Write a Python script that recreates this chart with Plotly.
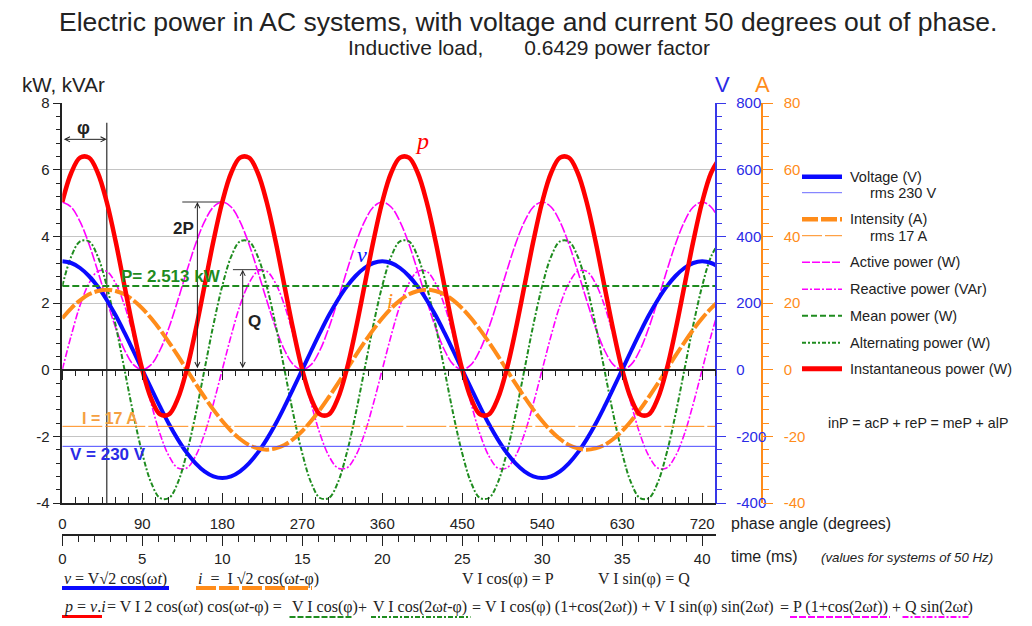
import plotly.graph_objects as go

# The page body has an 8px margin, so the figure is offset by 8px in the window.
OFF = 8
FW, FH = 1016, 610

def px(x):
    return (x - OFF) / FW

def py(y):
    return 1 - (y - OFF) / FH

# ---------------- data ----------------
angle_deg = [0, 10, 20, 30, 40, 50, 60, 70, 80, 90, 100, 110, 120, 130, 140, 150, 160, 170,
             180, 190, 200, 210, 220, 230, 240, 250, 260, 270, 280, 290, 300, 310, 320, 330, 340, 350,
             360, 370, 380, 390, 400, 410, 420, 430, 440, 450, 460, 470, 480, 490, 500, 510, 520, 530,
             540, 550, 560, 570, 580, 590, 600, 610, 620, 630, 640, 650, 660, 670, 680, 690, 700, 710,
             720, 730, 740]

voltage_v = [325, 320, 305, 281, 249, 209, 163, 111, 56, 0, -56, -111, -163, -209, -249, -281, -305, -320,
             -325, -320, -305, -281, -249, -209, -163, -111, -56, 0, 56, 111, 163, 209, 249, 281, 305, 320,
             325, 320, 305, 281, 249, 209, 163, 111, 56, 0, -56, -111, -163, -209, -249, -281, -305, -320,
             -325, -320, -305, -281, -249, -209, -163, -111, -56, 0, 56, 111, 163, 209, 249, 281, 305, 320,
             325, 320, 305]

current_a = [15.4, 18.4, 20.8, 22.6, 23.6, 24.0, 23.6, 22.6, 20.8, 18.4, 15.4, 12.0, 8.2, 4.2, 0, -4.2, -8.2, -12.0,
             -15.4, -18.4, -20.8, -22.6, -23.6, -24.0, -23.6, -22.6, -20.8, -18.4, -15.4, -12.0, -8.2, -4.2, 0, 4.2, 8.2, 12.0,
             15.4, 18.4, 20.8, 22.6, 23.6, 24.0, 23.6, 22.6, 20.8, 18.4, 15.4, 12.0, 8.2, 4.2, 0, -4.2, -8.2, -12.0,
             -15.4, -18.4, -20.8, -22.6, -23.6, -24.0, -23.6, -22.6, -20.8, -18.4, -15.4, -12.0, -8.2, -4.2, 0, 4.2, 8.2, 12.0,
             15.4, 18.4, 20.8]

active_kw = [5.03, 4.88, 4.44, 3.77, 2.95, 2.08, 1.26, 0.59, 0.15, 0, 0.15, 0.59, 1.26, 2.08, 2.95, 3.77, 4.44, 4.88,
             5.03, 4.88, 4.44, 3.77, 2.95, 2.08, 1.26, 0.59, 0.15, 0, 0.15, 0.59, 1.26, 2.08, 2.95, 3.77, 4.44, 4.88,
             5.03, 4.88, 4.44, 3.77, 2.95, 2.08, 1.26, 0.59, 0.15, 0, 0.15, 0.59, 1.26, 2.08, 2.95, 3.77, 4.44, 4.88,
             5.03, 4.88, 4.44, 3.77, 2.95, 2.08, 1.26, 0.59, 0.15, 0, 0.15, 0.59, 1.26, 2.08, 2.95, 3.77, 4.44, 4.88,
             5.03, 4.88, 4.44]

reactive_kvar = [0, 1.02, 1.93, 2.59, 2.95, 2.95, 2.59, 1.93, 1.02, 0, -1.02, -1.93, -2.59, -2.95, -2.95, -2.59, -1.93, -1.02,
                 0, 1.02, 1.93, 2.59, 2.95, 2.95, 2.59, 1.93, 1.02, 0, -1.02, -1.93, -2.59, -2.95, -2.95, -2.59, -1.93, -1.02,
                 0, 1.02, 1.93, 2.59, 2.95, 2.95, 2.59, 1.93, 1.02, 0, -1.02, -1.93, -2.59, -2.95, -2.95, -2.59, -1.93, -1.02,
                 0, 1.02, 1.93, 2.59, 2.95, 2.95, 2.59, 1.93, 1.02, 0, -1.02, -1.93, -2.59, -2.95, -2.95, -2.59, -1.93, -1.02,
                 0, 1.02, 1.93]

alternating_kw = [2.51, 3.39, 3.85, 3.85, 3.39, 2.51, 1.34, 0, -1.34, -2.51, -3.39, -3.85, -3.85, -3.39, -2.51, -1.34, 0, 1.34,
                  2.51, 3.39, 3.85, 3.85, 3.39, 2.51, 1.34, 0, -1.34, -2.51, -3.39, -3.85, -3.85, -3.39, -2.51, -1.34, 0, 1.34,
                  2.51, 3.39, 3.85, 3.85, 3.39, 2.51, 1.34, 0, -1.34, -2.51, -3.39, -3.85, -3.85, -3.39, -2.51, -1.34, 0, 1.34,
                  2.51, 3.39, 3.85, 3.85, 3.39, 2.51, 1.34, 0, -1.34, -2.51, -3.39, -3.85, -3.85, -3.39, -2.51, -1.34, 0, 1.34,
                  2.51, 3.39, 3.85]

instant_kw = [5.03, 5.90, 6.36, 6.36, 5.90, 5.03, 3.85, 2.51, 1.18, 0, -0.87, -1.34, -1.34, -0.87, 0, 1.18, 2.51, 3.85,
              5.03, 5.90, 6.36, 6.36, 5.90, 5.03, 3.85, 2.51, 1.18, 0, -0.87, -1.34, -1.34, -0.87, 0, 1.18, 2.51, 3.85,
              5.03, 5.90, 6.36, 6.36, 5.90, 5.03, 3.85, 2.51, 1.18, 0, -0.87, -1.34, -1.34, -0.87, 0, 1.18, 2.51, 3.85,
              5.03, 5.90, 6.36, 6.36, 5.90, 5.03, 3.85, 2.51, 1.18, 0, -0.87, -1.34, -1.34, -0.87, 0, 1.18, 2.51, 3.85,
              5.03, 5.90, 6.36]

mean_x_deg = [0, 750]
mean_kw = [2.513, 2.513]
rms_x_ms = [0, 42]
v_rms_line = [-230, -230]
i_rms_line = [-17, -17]

phi_deg = 50
two_p_kw = 5.03
q_kvar = 3.0

kw_ticks = [-4, -2, 0, 2, 4, 6, 8]
kw_ticktext = ["-4", "-2", "0", "2", "4", "6", "8"]
v_ticks = [-400, -200, 0, 200, 400, 600, 800]
v_ticktext = ["-400", "-200", "0", "200", "400", "600", "800"]
a_ticks = [-40, -20, 0, 20, 40, 60, 80]
a_ticktext = ["-40", "-20", "0", "20", "40", "60", "80"]

legend_labels = ["Voltage (V)", "rms 230 V", "Intensity (A)", "rms 17 A",
                 "Active power (W)", "Reactive power (VAr)", "Mean power (W)",
                 "Alternating power (W)", "Instantaneous power (W)"]

# ---------------- styles ----------------
BLUE = "#0a0aff"
BLUE_T = "#2a2ae6"
ORANGE = "#ff8c1a"
MAGENTA = "#ff00ff"
GREEN = "#1f8c1f"
RED = "#ff0000"
INK = "#222222"
SANS = "Liberation Sans, Arial, sans-serif"
SERIF = "Liberation Serif, Times New Roman, serif"

fig = go.Figure()

def add(x, y, color, width, dash, xaxis="x", yaxis="y", shape="spline"):
    fig.add_trace(go.Scatter(x=x, y=y, mode="lines", xaxis=xaxis, yaxis=yaxis,
                             line=dict(color=color, width=width, dash=dash, shape=shape),
                             hoverinfo="skip", showlegend=False))

add(angle_deg, active_kw, MAGENTA, 1.6, "10px,2px")
add(angle_deg, reactive_kvar, MAGENTA, 1.6, "7px,2px,2px,2px")
add(angle_deg, alternating_kw, GREEN, 2, "5px,2px,2px,2px")
add(angle_deg, voltage_v, BLUE, 4, "solid", yaxis="y2")
add(angle_deg, current_a, ORANGE, 4, "18px,3px", yaxis="y3")
add(angle_deg, instant_kw, RED, 4.5, "solid", yaxis="y4")
add(rms_x_ms, i_rms_line, ORANGE, 1, "40px,3px", xaxis="x2", yaxis="y3", shape="linear")
add(rms_x_ms, v_rms_line, "#4a4aff", 1, "solid", xaxis="x2", yaxis="y2", shape="linear")
add(mean_x_deg, mean_kw, GREEN, 2, "7px,3px", xaxis="x3", shape="linear")

X0, X1 = 62.3, 715.5
x_dom = [px(X0), px(X1)]
y_dom = [py(503), py(103)]
x_rng = [0, 735]

fig.update_layout(
    width=FW, height=FH, autosize=False,
    margin=dict(l=0, r=0, t=0, b=0),
    paper_bgcolor="white", plot_bgcolor="white",
    font=dict(family=SANS, size=15, color=INK),
    showlegend=False,
    xaxis=dict(domain=x_dom, range=x_rng, anchor="y", side="bottom",
               showline=True, linecolor=INK, linewidth=1.5,
               ticks="inside", ticklen=10, tickwidth=1, tickcolor=INK,
               tick0=0, dtick=90, ticklabelstandoff=6,
               minor=dict(dtick=15, ticks="inside", ticklen=6, tickcolor=INK, showgrid=False),
               showgrid=False, zeroline=False, tickfont=dict(size=15, color=INK),
               automargin=False),
    xaxis2=dict(overlaying="x", anchor="free", position=py(535), side="bottom",
                range=[0, 735 * 40 / 720], showline=True, linecolor=INK, linewidth=1.5,
                ticks="outside", ticklen=10, tickwidth=1, tickcolor=INK,
                tick0=0, dtick=5,
                minor=dict(dtick=1, ticks="outside", ticklen=6, tickcolor=INK, showgrid=False),
                showgrid=False, zeroline=False, tickfont=dict(size=15, color=INK),
                automargin=False),
    xaxis3=dict(overlaying="x", anchor="free", position=py(369.7), side="bottom",
                range=x_rng, showline=True, linecolor=INK, linewidth=1.5,
                ticks="outside", ticklen=10, tickwidth=1, tickcolor=INK,
                tick0=0, dtick=90, showticklabels=False,
                minor=dict(dtick=15, ticks="outside", ticklen=6, tickcolor=INK, showgrid=False),
                showgrid=False, zeroline=False, automargin=False),
    yaxis=dict(domain=y_dom, range=[-4, 8], anchor="x", side="left",
               showline=True, linecolor=INK, linewidth=1.5,
               ticks="outside", ticklen=8, tickwidth=1, tickcolor=INK,
               tickvals=kw_ticks, ticktext=kw_ticktext,
               minor=dict(dtick=0.4, tick0=0, ticks="outside", ticklen=5, tickcolor=INK, showgrid=False),
               showgrid=True, gridcolor="#c4c4c4", gridwidth=1, zeroline=False,
               tickfont=dict(size=15, color=INK), automargin=False),
    yaxis2=dict(overlaying="y", anchor="free", position=px(X1), side="right",
                range=[-400, 800], showline=True, linecolor="#3838e8", linewidth=1.5,
                ticks="outside", ticklen=10, tickwidth=1, tickcolor="#3838e8",
                tickvals=v_ticks, ticktext=v_ticktext, ticklabelstandoff=7,
                minor=dict(dtick=40, tick0=0, ticks="outside", ticklen=6, tickcolor="#3838e8", showgrid=False),
                showgrid=False, zeroline=False,
                tickfont=dict(size=15, color=BLUE_T), automargin=False),
    yaxis3=dict(overlaying="y", anchor="free", position=px(762), side="right",
                range=[-40, 80], showline=True, linecolor=ORANGE, linewidth=1.5,
                ticks="outside", ticklen=10, tickwidth=1, tickcolor=ORANGE,
                tickvals=a_ticks, ticktext=a_ticktext, ticklabelstandoff=8,
                minor=dict(dtick=4, tick0=0, ticks="outside", ticklen=6, tickcolor=ORANGE, showgrid=False),
                showgrid=False, zeroline=False,
                tickfont=dict(size=15, color=ORANGE), automargin=False),
    yaxis4=dict(overlaying="y", range=[-4, 8], visible=False, showgrid=False, zeroline=False),
)

ann = []
shapes = []

def text(x, y, t, size=15, color=INK, xanchor="center", family=SANS, ref="paper"):
    if ref == "paper":
        ann.append(dict(x=px(x), y=py(y), xref="paper", yref="paper", text=t,
                        showarrow=False, xanchor=xanchor, yanchor="middle",
                        font=dict(size=size, color=color, family=family)))
    else:
        ann.append(dict(x=x, y=y, xref="x", yref="y", text=t,
                        showarrow=False, xanchor=xanchor, yanchor="middle",
                        font=dict(size=size, color=color, family=family)))

def pline(x0, x1, y, color, width, dash="solid"):
    shapes.append(dict(type="line", xref="paper", yref="paper",
                       x0=px(x0), x1=px(x1), y0=py(y), y1=py(y),
                       line=dict(color=color, width=width, dash=dash)))

# titles
text(528, 22, "Electric power in AC systems, with voltage and current 50 degrees out of phase.", 26.5)
text(529, 48, "Inductive load,\u00a0\u00a0\u00a0\u00a0\u00a0\u00a0 0.6429 power factor", 21)
text(20, 85, "kW, kVAr", 20.5, xanchor="left")
text(722, 85, "V", 22, BLUE_T)
text(762, 85, "A", 22, ORANGE)

# axis captions
text(729, 523, "phase angle (degrees)", 16, xanchor="left")
text(729, 556, "time (ms)", 16, xanchor="left")
text(819, 557, "<i>(values for systems of 50 Hz)</i>", 13.3, xanchor="left")

# legend
leg_y = [176.7, 192.7, 219.3, 235.7, 262.3, 289.3, 315.7, 342.7, 368.7]
leg_style = [(BLUE, 4.5, "solid", 848), ("#6a6aff", 1, "solid", 868),
             (ORANGE, 4.5, "16px,3px", 848), (ORANGE, 1, "20px,3px", 868),
             (MAGENTA, 1.6, "8px,2px", 848), (MAGENTA, 1.6, "6px,2px,2px,2px", 848),
             (GREEN, 2, "6px,3px", 848), (GREEN, 2, "4px,2px,2px,2px", 848),
             (RED, 5, "solid", 848)]
for yy, lab, (c, w, d, tx) in zip(leg_y, legend_labels, leg_style):
    pline(802, 842, yy, c, w, d)
    text(tx, yy, lab, 14.5, xanchor="left")
text(918, 423, "inP = acP + reP = meP + alP", 14.2)

# formulas
F = 16
text(62, 579, "<i>v</i> = V√2 cos(ω<i>t</i>)", F, xanchor="left", family=SERIF)
text(196, 579, "<i>i</i>\u00a0 = \u00a0I √2 cos(ω<i>t</i>-φ)", F, xanchor="left", family=SERIF)
text(460, 579, "V I cos(φ) = P", F, xanchor="left", family=SERIF)
text(596, 579, "V I sin(φ) = Q", F, xanchor="left", family=SERIF)
pline(62, 169, 588, BLUE, 4)
pline(196, 312, 588, ORANGE, 4, "20px,3px")

text(62, 607, "<i>p</i> = <i>v</i>.<i>i</i>", F, xanchor="left", family=SERIF)
text(194.5, 607, "= V I 2 cos(ω<i>t</i>) cos(ω<i>t</i>-φ) =", F, family=SERIF)
text(289.5, 607, "V I cos(φ)", F, xanchor="left", family=SERIF)
text(362, 607, "+", F, family=SERIF)
text(371, 607, "V I cos(2ω<i>t</i>-φ)", F, xanchor="left", family=SERIF)
text(476, 607, "=", F, family=SERIF)
text(482.5, 607, "V I cos(φ) (1+cos(2ω<i>t</i>)) + V I sin(φ) sin(2ω<i>t</i>)", F, xanchor="left", family=SERIF)
text(784, 607, "=", F, family=SERIF)
text(791, 607, "P (1+cos(2ω<i>t</i>))", F, xanchor="left", family=SERIF)
text(896, 607, "+", F, family=SERIF)
text(902.5, 607, "Q sin(2ω<i>t</i>)", F, xanchor="left", family=SERIF)
pline(62, 102, 617, RED, 4)
pline(289.5, 352, 617, GREEN, 2, "6px,2px")
pline(371, 470.5, 617, GREEN, 2, "5px,2px,2px,2px")
pline(790, 890, 617, MAGENTA, 2, "7px,2px")
pline(902.5, 970.5, 617, MAGENTA, 2, "6px,2px,2px,2px")

# in-plot annotations (data coordinates)
def dline(x0, x1, y0, y1, color="#333", width=1):
    shapes.append(dict(type="line", xref="x", yref="y", x0=x0, x1=x1, y0=y0, y1=y1,
                       layer="between", line=dict(color=color, width=width)))

def darrow(x0, y0, x1, y1):
    ann.append(dict(x=x1, y=y1, ax=x0, ay=y0, xref="x", yref="y", axref="x", ayref="y",
                    text="", showarrow=True, arrowside="end+start", arrowhead=5,
                    startarrowhead=5, arrowsize=1, startarrowsize=1, arrowwidth=1,
                    arrowcolor="#222"))

dline(phi_deg, phi_deg, -4, 7.41, "#555", 1.5)
darrow(0, 6.91, phi_deg, 6.91)
text(23.5, 7.25, "<b>φ</b>", 18, ref="data")

dline(135, 180, two_p_kw, two_p_kw)
darrow(152, 0, 152, two_p_kw)
text(136, 4.25, "<b>2P</b>", 17, ref="data")

dline(192, 226, q_kvar, q_kvar)
darrow(203, 0, 203, q_kvar)
text(216, 1.44, "<b>Q</b>", 17, ref="data")

text(122, 2.79, "<b>P= 2.513 kW</b>", 17, GREEN, ref="data")
text(53.5, -1.45, "<b>I = 17 A</b>", 16, "#f5a040", ref="data")
text(51, -2.53, "<b>V = 230 V</b>", 17, BLUE_T, ref="data")
text(404.7, 6.85, "<i>p</i>", 24, RED, family=SERIF, ref="data")
text(337, 3.45, "<i>v</i>", 22, BLUE, family=SERIF, ref="data")
text(368.6, 2.08, "<i>i</i>", 22, ORANGE, family=SERIF, ref="data")

fig.update_layout(annotations=ann, shapes=shapes)
fig.write_html("out.html")
